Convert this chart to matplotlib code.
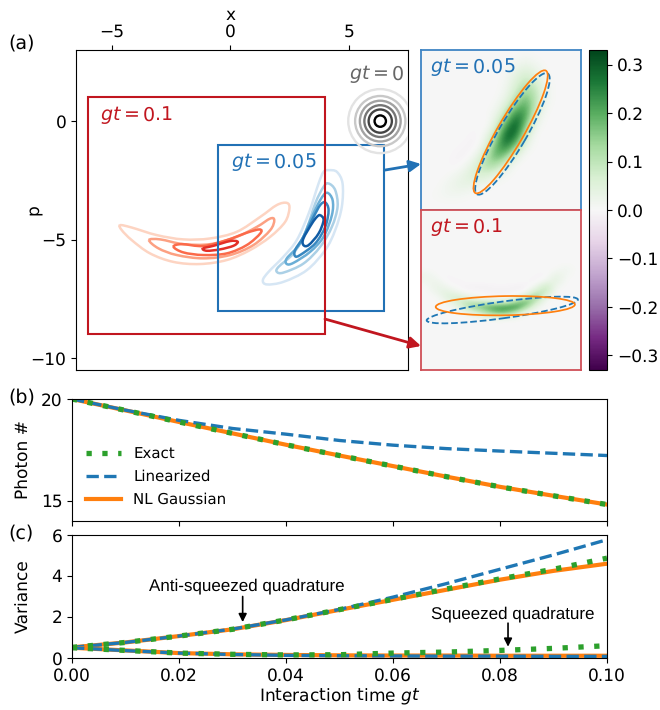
import numpy as np
import matplotlib
matplotlib.use('Agg')
import matplotlib.pyplot as plt
from matplotlib.patches import Rectangle, Ellipse, Circle, PathPatch, ConnectionPatch
from matplotlib.path import Path

W, H = 660, 710

# panel (a): contour outlines, (x, p)
red_outlines = [
    [(-4.64, -4.39), (-4.15, -4.49), (-3.09, -4.81), (-1.97, -4.99), (-0.84, -4.95), (0.28, -4.67), (1.27, -4.04),
     (1.97, -3.54), (2.39, -3.45), (2.50, -3.68), (2.32, -4.25), (1.69, -4.88), (0.84, -5.44), (-0.14, -5.86),
     (-1.27, -6.03), (-2.39, -5.94), (-3.38, -5.58), (-4.15, -5.02), (-4.57, -4.60)],
    [(-3.42, -5.02), (-2.95, -4.99), (-1.97, -5.19), (-0.84, -5.19), (0.28, -4.88), (1.13, -4.46), (1.69, -4.11),
     (1.86, -4.18), (1.69, -4.60), (0.98, -5.23), (0.0, -5.65), (-1.13, -5.79), (-2.25, -5.65), (-3.02, -5.37)],
    [(-2.39, -5.30), (-2.04, -5.19), (-1.13, -5.27), (-0.14, -5.02), (0.70, -4.71), (1.24, -4.57), (1.27, -4.74),
     (0.70, -5.23), (-0.14, -5.58), (-1.13, -5.65), (-1.97, -5.54)],
    [(-1.15, -5.37), (-0.70, -5.26), (0.0, -5.06), (0.32, -5.09), (0.14, -5.26), (-0.42, -5.41), (-0.98, -5.47)],
]
red_colors = ['#fdd4c2', '#fca082', '#fb6a4a', '#e32f27']

blue_outlines = [
    [(4.15, -2.07), (4.50, -2.14), (4.74, -2.63), (4.71, -3.61), (4.43, -4.60), (4.01, -5.44), (3.23, -6.29),
     (2.25, -6.78), (1.55, -6.89), (1.38, -6.71), (1.62, -6.36), (2.25, -5.72), (2.81, -5.02), (3.31, -3.90),
     (3.73, -2.63), (3.94, -2.14)],
    [(4.15, -2.63), (4.43, -2.91), (4.53, -3.61), (4.29, -4.46), (3.80, -5.30), (3.09, -6.01), (2.25, -6.39),
     (1.97, -6.36), (2.04, -6.15), (2.67, -5.58), (3.16, -4.74), (3.59, -3.47), (3.94, -2.77)],
    [(4.08, -3.02), (4.32, -3.33), (4.29, -3.97), (3.94, -4.88), (3.38, -5.51), (2.67, -5.98), (2.39, -6.03),
     (2.39, -5.79), (2.95, -5.16), (3.38, -4.18), (3.80, -3.33)],
    [(4.01, -3.43), (4.15, -3.76), (4.01, -4.46), (3.59, -5.16), (2.95, -5.65), (2.74, -5.70), (2.74, -5.44),
     (3.09, -4.88), (3.52, -4.04), (3.80, -3.54)],
    [(3.80, -3.97), (3.94, -4.18), (3.73, -4.74), (3.31, -5.23), (3.09, -5.23), (3.09, -4.95), (3.45, -4.32),
     (3.66, -4.04)],
]
blue_colors = ['#d6e6f4', '#abd0e6', '#6aaed6', '#3787c0', '#105ba4']

gray_center = (6.33, 0.0)
gray_radii = [1.35, 1.06, 0.86, 0.67, 0.49, 0.24]
gray_colors = ['#e3e3e3', '#c8c8c8', '#a3a3a3', '#767676', '#444444', '#000000']

box_05 = (-0.5, 6.5, -8.0, -1.0)
box_01 = (-6.0, 4.0, -9.0, 1.0)

# Wigner function values in the insets, coarse grids
wigner_05 = [
    [0, 0, 0, 0, 0, 0, 0, 0, 0, 0, .005, 0, 0, 0, 0, 0],
    [0, 0, 0, 0, 0, 0, 0, 0, 0, .015, .03, .015, 0, 0, 0, 0],
    [0, 0, 0, 0, 0, 0, 0, 0, .005, .04, .07, .04, .005, 0, 0, 0],
    [0, 0, 0, 0, 0, 0, 0, 0, .01, .06, .11, .08, .015, 0, 0, 0],
    [0, 0, 0, 0, 0, 0, 0, 0, .02, .09, .16, .10, .02, 0, 0, 0],
    [0, 0, 0, 0, 0, 0, 0, .005, .05, .15, .21, .09, .01, 0, 0, 0],
    [0, 0, 0, 0, 0, 0, 0, .02, .11, .26, .22, .05, 0, 0, 0, 0],
    [0, 0, 0, 0, 0, 0, -.008, .05, .21, .32, .15, .015, 0, 0, 0, 0],
    [0, 0, 0, 0, 0, -.008, .015, .11, .30, .28, .07, 0, 0, 0, 0, 0],
    [0, 0, 0, 0, -.006, -.012, .04, .18, .28, .16, .025, 0, 0, 0, 0, 0],
    [0, 0, 0, -.006, -.012, .015, .09, .21, .16, .04, 0, 0, 0, 0, 0, 0],
    [0, 0, 0, -.01, .01, .055, .13, .12, .045, 0, 0, 0, 0, 0, 0, 0],
    [0, 0, 0, .015, .04, .07, .06, .03, .005, 0, 0, 0, 0, 0, 0, 0],
    [0, 0, .012, .03, .035, .02, .01, 0, 0, 0, 0, 0, 0, 0, 0, 0],
    [0, .006, .012, .012, .006, 0, 0, 0, 0, 0, 0, 0, 0, 0, 0, 0],
    [0, 0, 0, 0, 0, 0, 0, 0, 0, 0, 0, 0, 0, 0, 0, 0],
]

# only rows 11-21 of 32 are non-zero for gt=0.1
wigner_01_band = [
    [0, 0, 0, 0, 0, 0, 0, 0, 0, 0, 0, 0, 0, 0, .014, 0],
    [.012, 0, 0, 0, 0, 0, 0, 0, 0, 0, 0, 0, -.005, .016, .015, 0],
    [.022, .01, -.008, 0, 0, 0, 0, 0, 0, 0, 0, -.005, -.008, .045, .005, 0],
    [.012, .025, 0, -.01, 0, 0, 0, 0, 0, 0, 0, -.01, .03, .04, 0, 0],
    [0, .032, .018, 0, -.01, -.012, -.012, -.006, -.006, -.012, -.012, .02, .10, .01, 0, 0],
    [0, .018, .045, .02, 0, 0, -.006, -.012, -.012, -.006, 0, .09, .09, 0, 0, 0],
    [0, 0, .04, .07, .035, .012, 0, 0, 0, .015, .08, .16, .025, 0, 0, 0],
    [0, 0, .01, .055, .10, .09, .08, .07, .07, .14, .20, .08, 0, 0, 0, 0],
    [0, 0, 0, .017, .09, .15, .18, .21, .22, .23, .13, .018, 0, 0, 0, 0],
    [0, 0, 0, 0, .022, .065, .12, .18, .18, .11, .022, 0, 0, 0, 0, 0],
    [0, 0, 0, 0, 0, .009, .028, .04, .04, .017, 0, 0, 0, 0, 0, 0],
]
wigner_min, wigner_max = -0.33, 0.33

# (center x, center p, full length, full width, angle)
ellipse_05_nl = (3.42, -4.58, 6.18, 1.16, 60.0)
ellipse_05_lin = (3.50, -4.67, 6.12, 1.22, 59.7)
ellipse_01_nl = (-0.73, -4.98, 8.70, 1.20, 1.0)
ellipse_01_lin = (-0.92, -5.25, 9.54, 1.04, 7.9)

# panels (b) and (c)
gt = [0.0, 0.01, 0.02, 0.03, 0.04, 0.05, 0.06, 0.07, 0.08, 0.09, 0.10]
photon_exact = [20.0, 19.44, 18.87, 18.31, 17.75, 17.22, 16.70, 16.18, 15.68, 15.24, 14.81]
photon_lin = [20.0, 19.45, 18.95, 18.55, 18.27, 17.96, 17.73, 17.56, 17.44, 17.33, 17.22]
photon_nl = [20.0, 19.44, 18.87, 18.31, 17.75, 17.22, 16.70, 16.18, 15.68, 15.24, 14.81]

anti_exact = [0.52, 0.76, 1.07, 1.40, 1.86, 2.36, 2.86, 3.37, 3.86, 4.33, 4.87]
anti_lin = [0.52, 0.76, 1.07, 1.41, 1.86, 2.37, 2.97, 3.63, 4.33, 5.03, 5.77]
anti_nl = [0.52, 0.76, 1.07, 1.40, 1.85, 2.35, 2.84, 3.33, 3.82, 4.25, 4.60]
sq_exact = [0.50, 0.37, 0.24, 0.18, 0.15, 0.16, 0.24, 0.29, 0.37, 0.47, 0.60]
sq_lin = [0.50, 0.36, 0.24, 0.17, 0.13, 0.11, 0.10, 0.09, 0.09, 0.08, 0.08]
sq_nl = [0.50, 0.37, 0.24, 0.18, 0.15, 0.13, 0.12, 0.12, 0.11, 0.11, 0.11]

plt.rcParams['font.size'] = 12
plt.rcParams['mathtext.fontset'] = 'dejavusans'
plt.rcParams['text.hinting'] = 'none'
plt.rcParams['text.hinting_factor'] = 1

BLUE = '#2171b5'
RED = '#c1161f'
C_BLUE = '#1f77b4'
C_ORANGE = '#ff7f0e'
C_GREEN = '#2ca02c'


def add_axes_px(fig, left, right, top, bottom):
    return fig.add_axes([left / W, 1 - bottom / H, (right - left) / W, (bottom - top) / H])


def closed_path(points):
    # smooth closed curve through the read points (bezier segments)
    pts = np.array(points)
    n = len(pts)
    verts = [pts[0]]
    codes = [Path.MOVETO]
    for i in range(n):
        p0, p1, p2, p3 = pts[i - 1], pts[i], pts[(i + 1) % n], pts[(i + 2) % n]
        verts += [p1 + (p2 - p0) / 6, p2 - (p3 - p1) / 6, p2]
        codes += [Path.CURVE4] * 3
    return Path(verts, codes)


def draw_lines(ax, x, exact, lin, nl, label=False):
    ax.plot(x, nl, color=C_ORANGE, lw=3.0, label='NL Gaussian' if label else None)
    ax.plot(x, lin, color=C_BLUE, lw=2.4, ls='--', label='Linearized' if label else None)
    ax.plot(x, exact, color=C_GREEN, lw=3.8, ls=(0, (1, 2.0)), label='Exact' if label else None)


fig = plt.figure(figsize=(W / 100, H / 100), dpi=100)

# panel (a), main
ax = add_axes_px(fig, 76, 408, 50, 370)
ax.set_xlim(-6.5, 7.5)
ax.set_ylim(-10.5, 3.0)
ax.xaxis.tick_top()
ax.xaxis.set_label_position('top')
ax.set_xticks([-5, 0, 5])
ax.set_yticks([0, -5, -10])
ax.set_xlabel('x', labelpad=3, x=0.467)
ax.set_ylabel('p')
ax.yaxis.set_label_coords(-0.1, 0.5)

for outline, col in zip(red_outlines, red_colors):
    ax.add_patch(PathPatch(closed_path(outline), fill=False, ec=col, lw=1.8, zorder=2))
ax.add_patch(Rectangle((box_05[0], box_05[2]), box_05[1] - box_05[0], box_05[3] - box_05[2],
                       fill=False, ec=BLUE, lw=1.5, zorder=3))
for r, col in zip(gray_radii, gray_colors):
    ax.add_patch(Circle(gray_center, r, fill=False, ec=col, lw=1.7, zorder=4))
for outline, col in zip(blue_outlines, blue_colors):
    ax.add_patch(PathPatch(closed_path(outline), fill=False, ec=col, lw=1.8, zorder=5))
ax.add_patch(Rectangle((box_01[0], box_01[2]), box_01[1] - box_01[0], box_01[3] - box_01[2],
                       fill=False, ec=RED, lw=1.5, zorder=6))

ax.text(-5.5, 0.0, '$gt=0.1$', color=RED, fontsize=13.5)
ax.text(0.05, -1.98, '$gt=0.05$', color=BLUE, fontsize=13.5)
ax.text(5.0, 1.73, '$gt=0$', color='#666666', fontsize=13.5)

# insets
ax_05 = add_axes_px(fig, 421, 581, 50, 210)
im = ax_05.imshow(np.array(wigner_05), extent=box_05, origin='upper', cmap='PRGn', vmin=wigner_min, vmax=wigner_max,
                  interpolation='bicubic', aspect='auto')
ax_05.add_patch(Ellipse(ellipse_05_lin[:2], ellipse_05_lin[2], ellipse_05_lin[3], angle=ellipse_05_lin[4],
                        fill=False, ec=C_BLUE, lw=1.3, ls='--'))
ax_05.add_patch(Ellipse(ellipse_05_nl[:2], ellipse_05_nl[2], ellipse_05_nl[3], angle=ellipse_05_nl[4],
                        fill=False, ec=C_ORANGE, lw=1.25))
ax_05.text(0.056, 0.856, '$gt=0.05$', color=BLUE, fontsize=13.5, transform=ax_05.transAxes)

wigner_01 = np.zeros((32, 16))
wigner_01[11:22] = wigner_01_band
ax_01 = add_axes_px(fig, 421, 581, 210, 370)
ax_01.imshow(wigner_01, extent=box_01, origin='upper', cmap='PRGn', vmin=wigner_min, vmax=wigner_max,
             interpolation='bicubic', aspect='auto')
ax_01.add_patch(Ellipse(ellipse_01_lin[:2], ellipse_01_lin[2], ellipse_01_lin[3], angle=ellipse_01_lin[4],
                        fill=False, ec=C_BLUE, lw=1.3, ls='--'))
ax_01.add_patch(Ellipse(ellipse_01_nl[:2], ellipse_01_nl[2], ellipse_01_nl[3], angle=ellipse_01_nl[4],
                        fill=False, ec=C_ORANGE, lw=1.25))
ax_01.text(0.056, 0.856, '$gt=0.1$', color=RED, fontsize=13.5, transform=ax_01.transAxes)

for a, col in [(ax_05, '#3f85c4'), (ax_01, '#cf4f57')]:
    a.set_xticks([])
    a.set_yticks([])
    for s in a.spines.values():
        s.set_color(col)
        s.set_linewidth(1.3)

cax = add_axes_px(fig, 589, 607, 50, 370)
cb = fig.colorbar(im, cax=cax)
cb.set_ticks([-0.3, -0.2, -0.1, 0.0, 0.1, 0.2, 0.3])

fig.add_artist(ConnectionPatch((6.5, -2.07), (0.0, 0.2875), 'data', 'axes fraction', axesA=ax, axesB=ax_05,
                               arrowstyle='-|>', mutation_scale=17, color=BLUE, lw=2))
fig.add_artist(ConnectionPatch((4.0, -8.35), (0.0, 0.15), 'data', 'axes fraction', axesA=ax, axesB=ax_01,
                               arrowstyle='-|>', mutation_scale=17, color=RED, lw=2))

# panel (b)
ax_b = add_axes_px(fig, 72, 607, 399, 521)
draw_lines(ax_b, gt, photon_exact, photon_lin, photon_nl, label=True)
ax_b.set_xlim(0, 0.1)
ax_b.set_ylim(14, 20)
ax_b.set_yticks([15, 20])
ax_b.tick_params(labelbottom=False)
ax_b.set_ylabel('Photon #')
ax_b.yaxis.set_label_coords(-0.074, 0.5)
handles, labels = ax_b.get_legend_handles_labels()
ax_b.legend(handles[::-1], labels[::-1], loc='lower left', bbox_to_anchor=(0.0, 0.0), frameon=False, fontsize=11,
            handlelength=2.3, labelspacing=0.55)

# panel (c)
ax_c = add_axes_px(fig, 72, 607, 535, 658)
draw_lines(ax_c, gt, anti_exact, anti_lin, anti_nl)
draw_lines(ax_c, gt, sq_exact, sq_lin, sq_nl)
ax_c.set_xlim(0, 0.1)
ax_c.set_ylim(0, 6)
ax_c.set_yticks([0, 2, 4, 6])
ax_c.set_xticks([0.0, 0.02, 0.04, 0.06, 0.08, 0.1])
ax_c.set_xticklabels(['0.00', '0.02', '0.04', '0.06', '0.08', '0.10'])
ax_c.set_xlabel('Interaction time $gt$', labelpad=2)
ax_c.set_ylabel('Variance')
ax_c.yaxis.set_label_coords(-0.074, 0.5)

ax_c.annotate('', xy=(0.0319, 1.75), xytext=(0.0319, 3.0),
              arrowprops=dict(arrowstyle='-|>', color='k', lw=1.2, shrinkA=0, shrinkB=0))
ax_c.text(0.0327, 3.5, 'Anti-squeezed quadrature', ha='center', va='center', fontsize=12, family='Liberation Sans')
ax_c.annotate('', xy=(0.0815, 0.55), xytext=(0.0815, 1.7),
              arrowprops=dict(arrowstyle='-|>', color='k', lw=1.2, shrinkA=0, shrinkB=0))
ax_c.text(0.0823, 2.13, 'Squeezed quadrature', ha='center', va='center', fontsize=12, family='Liberation Sans')

fig.text(8 / W, 1 - 43 / H, '(a)', fontsize=14, va='center')
fig.text(8 / W, 1 - 397 / H, '(b)', fontsize=14, va='center')
fig.text(8 / W, 1 - 533 / H, '(c)', fontsize=14, va='center')

fig.savefig('out.png', dpi=100)
